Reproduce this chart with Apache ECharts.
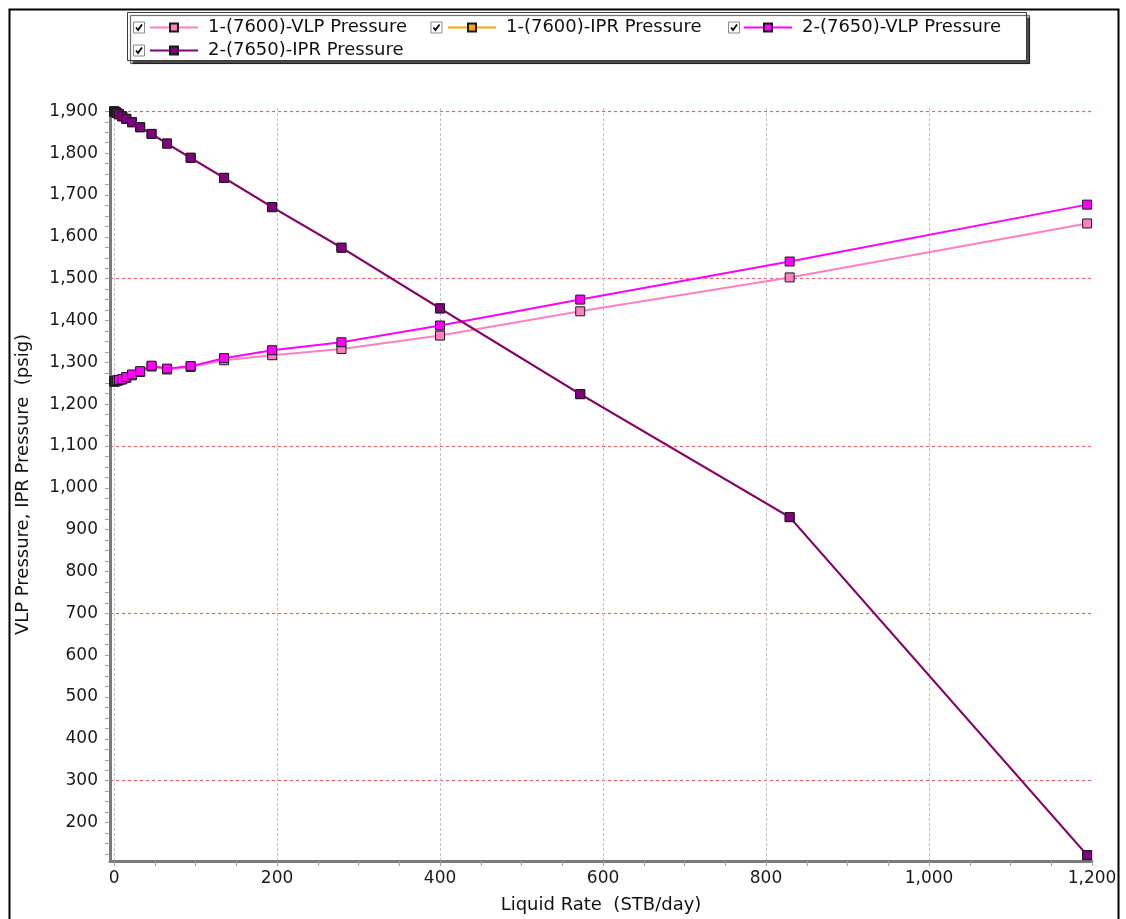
<!DOCTYPE html>
<html>
<head>
<meta charset="utf-8">
<script src="https://cdn.jsdelivr.net/npm/echarts@6/dist/echarts.min.js"></script>
<style>
  html, body { margin: 0; padding: 0; background: #fff; }
  #chart { width: 1126px; height: 919px; }
</style>
</head>
<body>
<div id="chart"></div>
<script>
// Liquid rates (STB/day) shared by every curve
const rates = [0, 1, 2, 3.5, 6, 10, 15, 22, 32, 46, 65, 94, 135, 194, 279, 400, 572, 829, 1194];

// Pressures (psig) at each rate
const vlp7600 = [1254, 1254, 1255, 1256, 1257, 1259, 1263, 1269, 1277, 1290, 1283, 1289, 1305, 1317, 1332, 1364, 1422, 1503, 1632];
const ipr7600 = [1900, 1899, 1898, 1896, 1893, 1888, 1882, 1874, 1862, 1846, 1823, 1789, 1741, 1671, 1574, 1429, 1224, 930, 122];
const vlp7650 = [1255, 1255, 1256, 1257, 1258, 1260, 1265, 1271, 1279, 1292, 1285, 1291, 1310, 1329, 1348, 1388, 1450, 1541, 1677];
const ipr7650 = [1900, 1899, 1898, 1896, 1893, 1888, 1882, 1874, 1862, 1846, 1823, 1789, 1741, 1671, 1574, 1429, 1224, 930, 122];

const seriesNames = ['1-(7600)-VLP Pressure', '1-(7600)-IPR Pressure', '2-(7650)-VLP Pressure', '2-(7650)-IPR Pressure'];
const seriesValues = [vlp7600, ipr7600, vlp7650, ipr7650];
const seriesColors = ['#FF80C0', '#FFA500', '#FF00FF', '#800080'];

// Axis labels and reference lines
const xTickLabels = [0, 200, 400, 600, 800, 1000, 1200];
const xGridLines = [0, 200, 400, 600, 800, 1000];
const yTickLabels = [200, 300, 400, 500, 600, 700, 800, 900, 1000, 1100, 1200, 1300, 1400, 1500, 1600, 1700, 1800, 1900];
const yRefLines = [300, 700, 1100, 1500, 1900];

const X_MIN = -5, X_MAX = 1200, Y_MIN = 108, Y_MAX = 1908;
const FONT = 'DejaVu Sans';

// minor tick positions: every 50 on x, every 25 on y
const xTicks = [];
for (let v = 0; v <= X_MAX; v += 50) xTicks.push(v);
const yTicks = [];
for (let v = 125; v <= 1900; v += 25) yTicks.push(v);

const fmt = v => Math.round(v).toLocaleString('en-US');

// legend slot positions (icon left edge, row centre) and checkbox centres
const legendSlots = [
  { left: 149, cy: 27.5, box: 139 },
  { left: 447, cy: 27.5, box: 436.5 },
  { left: 743, cy: 27.5, box: 734 },
  { left: 149, cy: 50.5, box: 139 }
];

const chart = echarts.init(document.getElementById('chart'), null, { renderer: 'canvas' });

const checkboxes = [];
legendSlots.forEach(s => {
  checkboxes.push({
    type: 'rect', z: 10,
    shape: { x: s.box - 6 + 0.5, y: s.cy - 6 + 0.5, width: 11, height: 11 },
    style: { fill: '#fff', stroke: '#8a8a8a', lineWidth: 1 }
  });
  checkboxes.push({
    type: 'polyline', z: 11,
    shape: { points: [[s.box - 3, s.cy], [s.box - 1, s.cy + 2.5], [s.box + 3, s.cy - 3]] },
    style: { fill: null, stroke: '#000', lineWidth: 1.8 }
  });
});

const option = {
  backgroundColor: '#fff',
  animation: false,
  textStyle: { fontFamily: FONT },
  graphic: [
    {
      type: 'rect', z: 0,
      shape: { x: 9.5, y: 9.5, width: 1109, height: 940 },
      style: { fill: 'none', stroke: '#000', lineWidth: 2 }
    },
    {
      type: 'rect', z: 1,
      shape: { x: 127.5, y: 12.5, width: 899, height: 48 },
      style: {
        fill: '#fff', stroke: '#3a3a3a', lineWidth: 1,
        shadowColor: 'rgba(0,0,0,0.7)', shadowOffsetX: 3, shadowOffsetY: 3, shadowBlur: 1
      }
    }
  ].concat(checkboxes),
  legend: seriesNames.map((name, i) => ({
    data: [name],
    left: legendSlots[i].left,
    top: legendSlots[i].cy - 10,
    padding: 0,
    itemWidth: 48,
    itemHeight: 10,
    selectedMode: false,
    textStyle: { fontFamily: FONT, fontSize: 18, color: '#111', padding: [0, 0, 0, 5], lineHeight: 20 }
  })),
  grid: { left: 110, right: 34, top: 108, bottom: 56, containLabel: false },
  xAxis: [
    {
      type: 'value', min: X_MIN, max: X_MAX, position: 'bottom',
      name: 'Liquid Rate  (STB/day)', nameLocation: 'middle', nameGap: 35,
      nameTextStyle: { fontFamily: FONT, fontSize: 18, color: '#111' },
      axisLine: { show: true, onZero: false, lineStyle: { color: '#7a7a7a', width: 3 } },
      axisTick: { show: true, customValues: xTicks, length: 5, lineStyle: { color: '#a0a0a0', width: 1 } },
      axisLabel: { customValues: xTickLabels, formatter: fmt, margin: 9, fontFamily: FONT, fontSize: 17, color: '#1a1a1a' },
      splitLine: { show: false }
    },
    {
      type: 'value', min: X_MIN, max: X_MAX, position: 'bottom',
      axisLine: { show: false }, axisLabel: { show: false },
      axisTick: { show: false, customValues: xGridLines },
      splitLine: { show: true, lineStyle: { color: '#c2c2c2', width: 1, type: [3, 2] } }
    }
  ],
  yAxis: [
    {
      type: 'value', min: Y_MIN, max: Y_MAX, position: 'left',
      name: 'VLP Pressure, IPR Pressure  (psig)', nameLocation: 'middle', nameGap: 78,
      nameTextStyle: { fontFamily: FONT, fontSize: 18, color: '#111' },
      axisLine: { show: true, onZero: false, lineStyle: { color: '#7a7a7a', width: 3 } },
      axisTick: { show: true, customValues: yTicks, length: 5, lineStyle: { color: '#a0a0a0', width: 1 } },
      axisLabel: { customValues: yTickLabels, formatter: fmt, margin: 12, fontFamily: FONT, fontSize: 17, color: '#1a1a1a' },
      splitLine: { show: false }
    },
    {
      type: 'value', min: Y_MIN, max: Y_MAX, position: 'left',
      axisLine: { show: false }, axisLabel: { show: false },
      axisTick: { show: false, customValues: yRefLines },
      splitLine: { show: true, lineStyle: { color: '#e06868', width: 1.2, type: [3, 3] } }
    }
  ],
  series: seriesNames.map((name, i) => ({
    name: name,
    type: 'line',
    xAxisIndex: 0,
    yAxisIndex: 0,
    data: rates.map((r, k) => [r, seriesValues[i][k]]),
    symbol: 'rect',
    symbolSize: 9,
    showSymbol: true,
    lineStyle: { color: seriesColors[i], width: 2 },
    itemStyle: { color: seriesColors[i], borderColor: '#1a1a1a', borderWidth: 1 },
    emphasis: { disabled: true },
    z: 3 + i
  }))
};

chart.setOption(option);
</script>
</body>
</html>
